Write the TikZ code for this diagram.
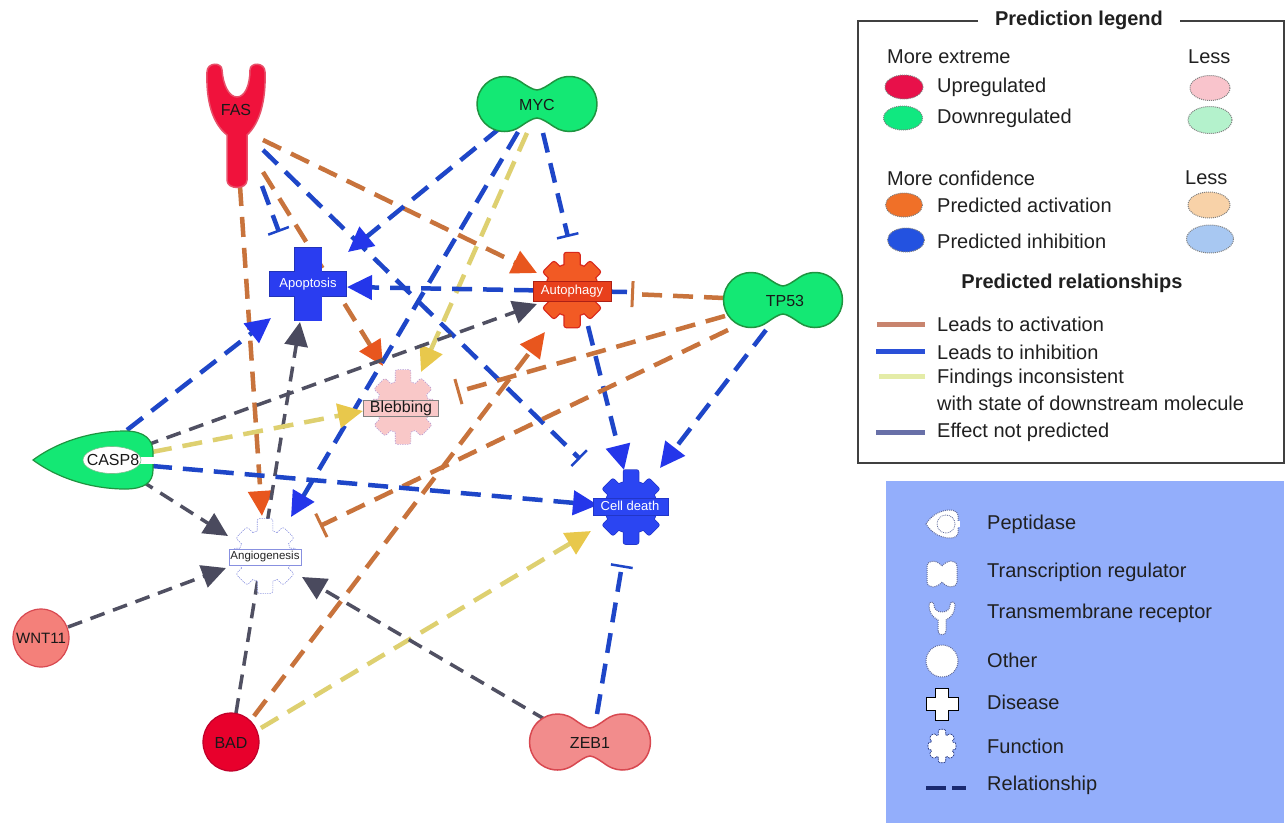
\documentclass[tikz,border=0pt]{standalone}
\usepackage{fontspec}
\setmainfont{Liberation Sans}
\usetikzlibrary{arrows.meta}
\definecolor{actline}{HTML}{C8733C}
\definecolor{acthead}{HTML}{E8561E}
\definecolor{inhline}{HTML}{1E46C8}
\definecolor{inhhead}{HTML}{2436EA}
\definecolor{yelline}{HTML}{DED070}
\definecolor{yelhead}{HTML}{E8C84C}
\definecolor{grayline}{HTML}{505062}
\definecolor{grayhead}{HTML}{4A4A5E}
\definecolor{gfill}{HTML}{14E874}
\definecolor{gedge}{HTML}{1F9440}
\definecolor{fasred}{HTML}{F0123C}
\definecolor{fasedge}{HTML}{E8506A}
\definecolor{badred}{HTML}{E8002C}
\definecolor{badedge}{HTML}{C0002A}
\definecolor{salmon}{HTML}{F4807A}
\definecolor{salmonedge}{HTML}{D84850}
\definecolor{zebfill}{HTML}{F28C8C}
\definecolor{autfill}{HTML}{F25A24}
\definecolor{autedge}{HTML}{D8281C}
\definecolor{autbox}{HTML}{E8401C}
\definecolor{cdfill}{HTML}{2B45F2}
\definecolor{cdedge}{HTML}{2236C8}
\definecolor{blebfill}{HTML}{F9C8C8}
\definecolor{blebedge}{HTML}{B898D0}
\definecolor{angedge}{HTML}{8890E0}
\definecolor{apofill}{HTML}{2A3DF0}
\definecolor{apoedge}{HTML}{2233B8}
\definecolor{legblue}{HTML}{93AEFB}
\definecolor{legtext}{HTML}{202020}
\definecolor{upfill}{HTML}{E8104A}
\definecolor{upless}{HTML}{F9C4CC}
\definecolor{downfill}{HTML}{10E880}
\definecolor{downless}{HTML}{B4F2CC}
\definecolor{actfill}{HTML}{F07028}
\definecolor{actless}{HTML}{F8D2A8}
\definecolor{inhfill}{HTML}{2352E0}
\definecolor{inhless}{HTML}{A8C8F2}
\definecolor{lgact}{HTML}{C8846E}
\definecolor{lginh}{HTML}{2A50D8}
\definecolor{lgyel}{HTML}{E4ECA8}
\definecolor{lggray}{HTML}{6870A8}
\definecolor{navy}{HTML}{1A2A70}
\tikzset{
  rel/.style={line width=4.5pt, dash pattern=on 20pt off 11pt},
  act/.style={rel, actline, -{Triangle[length=25pt,width=24pt,color=acthead]}},
  inhA/.style={rel, inhline, -{Triangle[length=25pt,width=24pt,color=inhhead]}},
  inhT/.style={rel, inhline, -{Bar[width=22pt,line width=2.5pt]}},
  actT/.style={rel, actline, -{Bar[width=26pt,line width=3pt]}},
  yel/.style={rel, yelline, -{Triangle[length=25pt,width=24pt,color=yelhead]}},
  gry/.style={line width=3.5pt, dash pattern=on 15pt off 9pt, grayline, -{Triangle[length=24pt,width=23pt,color=grayhead]}},
  genelabel/.style={font=\fontsize{16}{18}\selectfont, text=black!90, inner sep=0pt},
  funlabel/.style={font=\fontsize{13}{15}\selectfont, inner sep=0pt},
  lgtext/.style={anchor=west, font=\fontsize{20}{24}\selectfont, text=legtext, inner sep=0pt},
  lgbold/.style={font=\fontsize{20}{24}\selectfont\bfseries, text=legtext, inner sep=0pt},
  lgdot/.style={draw=black!50, densely dotted, line width=1pt},
  lgline/.style={line width=5pt},
  iconw/.style={fill=white, draw=navy!70, densely dotted, line width=1pt},
  pics/peanut/.style args={#1/#2/#3}{code={%
    \path[pic actions] (0,#3) .. controls (4,#3) and ({#1-0.574*#2-5.7},{0.819*#2-4}) .. ({#1-0.574*#2},{0.819*#2})
      arc[start angle=125,end angle=-125,radius=#2]
      .. controls ({#1-0.574*#2-5.7},{-0.819*#2+4}) and (4,-#3) .. (0,-#3)
      .. controls (-4,-#3) and ({-#1+0.574*#2+5.7},{-0.819*#2+4}) .. ({-#1+0.574*#2},{-0.819*#2})
      arc[start angle=-55,end angle=-305,radius=#2]
      .. controls ({-#1+0.574*#2+5.7},{0.819*#2-4}) and (-4,#3) .. (0,#3) -- cycle;}},
  pics/gear/.style args={#1/#2/#3}{code={%
    \foreach \a/\l in {0/37,45/33,90/31,135/33,180/37,225/33,270/31,315/33}
      {\draw[#2,line width=#3,rounded corners=2pt,rotate=\a] (-7.5,0) rectangle (7.5,\l);}
    \draw[#2,line width=#3] (0,0) circle[radius=26];
    \foreach \a/\l in {0/37,45/33,90/31,135/33,180/37,225/33,270/31,315/33}
      {\fill[#1,rounded corners=2pt,rotate=\a] (-7.5,0) rectangle (7.5,\l);}
    \fill[#1] (0,0) circle[radius=26];}},
  pics/crossshape/.style args={#1/#2/#3/#4/#5/#6/#7}{code={%
    \draw[#2,line width=#3] (-#4,-#5) rectangle (#4,#5);
    \draw[#2,line width=#3] (-#6,-#7) rectangle (#6,#7);
    \fill[#1] (-#4,-#5) rectangle (#4,#5);
    \fill[#1] (-#6,-#7) rectangle (#6,#7);}},
}
\begin{document}
\begin{tikzpicture}[x=1pt,y=-1pt]
\useasboundingbox (0,0) rectangle (1286,823);
\fill[white] (0,0) rectangle (1286,823);

% ---------- connector end points ----------
\coordinate (fasS1) at (240,186);  \coordinate (angN1) at (262,516);
\coordinate (fasS2) at (262,186);  \coordinate (apoN2) at (279,232);
\coordinate (fasS3) at (263,172);  \coordinate (blbN3) at (383,366);
\coordinate (fasS4) at (263,140);  \coordinate (autW4) at (537,273);
\coordinate (fasS5) at (263,150);  \coordinate (cdNW5) at (580,459);
\coordinate (mycS6) at (500,128);  \coordinate (apoE6) at (348,252);
\coordinate (mycS7) at (518,132);  \coordinate (angNE7) at (291,517);
\coordinate (mycS8) at (527,133);  \coordinate (blbN8) at (421,372);
\coordinate (mycS9) at (543,133);  \coordinate (autN9) at (568,237);
\coordinate (autS10) at (588,326); \coordinate (cdN10) at (624,470);
\coordinate (autE11) at (627,292); \coordinate (apoE11) at (347,287);
\coordinate (tpW12) at (724,298);  \coordinate (autE12) at (631,294);
\coordinate (tpS13) at (766,330);  \coordinate (cdNE13) at (660,468);
\coordinate (tpW14) at (725,316);  \coordinate (blbE14) at (457,392);
\coordinate (tpW15) at (728,330);  \coordinate (angE15) at (320,526);
\coordinate (badN16) at (254,716); \coordinate (autSW16) at (545,332);
\coordinate (badE17) at (261,728); \coordinate (cdSW17) at (591,531);
\coordinate (badN18) at (236,713); \coordinate (apoS18) at (300,322);
\coordinate (casN19) at (127,430); \coordinate (apoW19) at (271,318);
\coordinate (casE20) at (144,446); \coordinate (autW20) at (537,304);
\coordinate (casE21) at (152,452); \coordinate (blbW21) at (363,411);
\coordinate (casE22) at (152,466); \coordinate (cdW22) at (598,505);
\coordinate (casS23) at (140,480); \coordinate (angW23) at (228,536);
\coordinate (wntE24) at (68,627);  \coordinate (angW24) at (226,568);
\coordinate (zebNW25) at (546,720);\coordinate (angE25) at (302,577);
\coordinate (zebN26) at (597,714); \coordinate (cdS26) at (622,565);

% ---------- connectors ----------
\draw[act] (fasS1) -- (angN1);
\draw[inhT] (fasS2) -- (apoN2);
\draw[act] (fasS3) -- (blbN3);
\draw[act] (fasS4) -- (autW4);
\draw[inhT] (fasS5) -- (cdNW5);
\draw[inhA] (mycS6) -- (apoE6);
\draw[inhA] (mycS7) -- (angNE7);
\draw[yel] (mycS8) -- (blbN8);
\draw[inhT] (mycS9) -- (autN9);
\draw[inhA] (autS10) -- (cdN10);
\draw[inhA] (autE11) -- (apoE11);
\draw[actT] (tpW12) -- (autE12);
\draw[inhA] (tpS13) -- (cdNE13);
\draw[actT] (tpW14) -- (blbE14);
\draw[actT] (tpW15) -- (angE15);
\draw[act] (badN16) -- (autSW16);
\draw[yel] (badE17) -- (cdSW17);
\draw[gry] (badN18) -- (apoS18);
\draw[inhA] (casN19) -- (apoW19);
\draw[gry] (casE20) -- (autW20);
\draw[yel] (casE21) -- (blbW21);
\draw[inhA] (casE22) -- (cdW22);
\draw[gry] (casS23) -- (angW23);
\draw[gry] (wntE24) -- (angW24);
\draw[gry] (zebNW25) -- (angE25);
\draw[inhT] (zebN26) -- (cdS26);

% ---------- molecules ----------
\path[fill=fasred, draw=fasedge, line width=1.5pt]
  (227,180) -- (227,135) .. controls (212,123) and (206,100) .. (207,72)
  .. controls (207,62) and (222,62) .. (222,70)
  .. controls (223,85) and (229,97) .. (237,97)
  .. controls (245,97) and (250,85) .. (250,70)
  .. controls (250,62) and (265,62) .. (265,72)
  .. controls (266,100) and (260,123) .. (247,135) -- (247,180)
  .. controls (247,190) and (227,190) .. (227,180) -- cycle;
\node[genelabel] (fas) at (236,110) {FAS};

\pic[fill=gfill, draw=gedge, line width=1.5pt] at (537,104) {peanut={32.5/27.5/14}};
\node[genelabel] (myc) at (537,105) {MYC};
\pic[fill=gfill, draw=gedge, line width=1.5pt] at (783,300) {peanut={32/27.5/14}};
\node[genelabel] (tp53) at (785,301) {TP53};
\pic[fill=zebfill, draw=salmonedge, line width=1.5pt] at (590,742) {peanut={32.5/28/14}};
\node[genelabel] (zeb1) at (590,743) {ZEB1};

\path[fill=gfill, draw=gedge, line width=1.2pt]
  (33,460) .. controls (60,440) and (95,431) .. (125,431)
  .. controls (145,431) and (153,440) .. (153,452) -- (153,470)
  .. controls (153,482) and (145,489) .. (125,489)
  .. controls (95,489) and (60,480) .. (33,460) -- cycle;
\fill[white] (135,456.5) rectangle (154,463.5);
\path[fill=white, draw=gedge!60, line width=0.6pt] (112,460) ellipse[x radius=29, y radius=13.5];
\node[genelabel] (casp8) at (113,460) {CASP8};

\path[fill=salmon, draw=salmonedge, line width=1.2pt] (41,638) ellipse[x radius=28, y radius=29];
\node[genelabel, font=\fontsize{15}{17}\selectfont] (wnt11) at (41,638) {WNT11};
\path[fill=badred, draw=badedge, line width=1.2pt] (231,742) ellipse[x radius=28, y radius=29];
\node[genelabel] (bad) at (231,743) {BAD};

% ---------- functions and disease ----------
\pic at (308,284) {crossshape={apofill/apoedge/1.2pt/13.5/36.5/38/12}};
\node[funlabel, text=white] (apoptosis) at (308,284) {Apoptosis};

\pic at (572,290) {gear={autfill/autedge/2.5pt}};
\path[fill=autbox, draw=autedge!80!black, line width=0.8pt] (533,281) rectangle (611,301);
\node[funlabel, text=white] (autophagy) at (572,291) {Autophagy};

\pic at (631,507) {gear={cdfill/cdedge/1.5pt}};
\path[fill=cdfill, draw=cdedge, line width=0.8pt] (593,498) rectangle (668,515);
\node[funlabel, text=white] (celldeath) at (630,506) {Cell death};

\pic at (403,407) {gear={blebfill/{blebedge,densely dotted}/1.4pt}};
\path[fill=blebfill, draw=gray, line width=0.8pt] (363,400) rectangle (438,416);
\node[genelabel] (blebbing) at (401,408) {Blebbing};

\pic at (265,556) {gear={white/{angedge,densely dotted}/1.3pt}};
\path[fill=white, draw=angedge, line width=0.8pt] (229,549) rectangle (301,565);
\node[funlabel, font=\fontsize{11.5}{13}\selectfont, text=black!85] (angiogenesis) at (265,557) {Angiogenesis};

% ---------- prediction legend ----------
\draw[black!75, line width=1.3pt] (978,21) -- (858,21) -- (858,463) -- (1284,463) -- (1284,21) -- (1180,21);
\node[lgbold] (lgTitle) at (1079,20) {Prediction legend};
\node[lgtext] (lgMore) at (887,57) {More extreme};
\node[lgtext] (lgLess1) at (1188,57) {Less};
\path[lgdot, fill=upfill] (904,87) ellipse[x radius=19, y radius=12];
\path[lgdot, fill=upless] (1210,88) ellipse[x radius=20, y radius=12.5];
\node[lgtext] (lgUp) at (937,87) {Upregulated};
\path[lgdot, fill=downfill] (903,118) ellipse[x radius=19.5, y radius=12];
\path[lgdot, fill=downless] (1210,120) ellipse[x radius=22, y radius=13.5];
\node[lgtext] (lgDown) at (937,118) {Downregulated};
\node[lgtext] (lgConf) at (887,178) {More confidence};
\node[lgtext] (lgLess2) at (1185,178) {Less};
\path[lgdot, fill=actfill] (904,205) ellipse[x radius=18.5, y radius=12];
\path[lgdot, fill=actless] (1209,205) ellipse[x radius=21, y radius=13];
\node[lgtext] (lgAct) at (937,205) {Predicted activation};
\path[lgdot, fill=inhfill] (906,240) ellipse[x radius=18.5, y radius=12];
\path[lgdot, fill=inhless] (1210,239) ellipse[x radius=23.5, y radius=14];
\node[lgtext] (lgInh) at (937,241) {Predicted inhibition};
\node[lgbold] (lgRel) at (1072,283) {Predicted relationships};
\coordinate (la1) at (877,324); \coordinate (la2) at (925,324);
\draw[lgline, lgact] (la1) -- (la2);
\node[lgtext] (lgLA) at (937,324) {Leads to activation};
\coordinate (li1) at (876,351); \coordinate (li2) at (925,351);
\draw[lgline, lginh] (li1) -- (li2);
\node[lgtext] (lgLI) at (937,352) {Leads to inhibition};
\coordinate (ly1) at (879,376); \coordinate (ly2) at (925,376);
\draw[lgline, lgyel] (ly1) -- (ly2);
\node[lgtext] (lgF1) at (937,378) {Findings inconsistent};
\node[lgtext] (lgF2) at (937,403) {with state of downstream molecule};
\coordinate (lg1) at (876,432); \coordinate (lg2) at (925,432);
\draw[lgline, lggray] (lg1) -- (lg2);
\node[lgtext] (lgNP) at (937,432) {Effect not predicted};

% ---------- shape legend ----------
\fill[legblue] (886,481) rectangle (1284,823);
% peptidase icon
\path[iconw] (926,524) .. controls (932,514) and (942,510) .. (950,510)
  .. controls (957,510) and (959,515) .. (958,518) -- (958,530)
  .. controls (959,534) and (957,538) .. (950,538)
  .. controls (942,538) and (932,534) .. (926,524) -- cycle;
\fill[white] (950,521) rectangle (960,527);
\path[draw=navy!70, densely dotted, line width=0.8pt] (946,524) ellipse[x radius=9, y radius=9];
\node[lgtext] (lgPep) at (987,524) {Peptidase};
% transcription regulator icon
\path[iconw] (942,566) .. controls (947,560) and (956,559) .. (957,566) -- (957,582)
  .. controls (956,589) and (947,588) .. (942,582)
  .. controls (937,588) and (928,589) .. (927,582) -- (927,566)
  .. controls (928,559) and (937,560) .. (942,566) -- cycle;
\node[lgtext] (lgTR) at (987,572) {Transcription regulator};
% transmembrane receptor icon
\path[iconw] (938,631) -- (938,620) .. controls (932,617) and (929,612) .. (929,605)
  .. controls (929,601) and (934,601) .. (934,605)
  .. controls (934,609) and (937,612) .. (942,612)
  .. controls (947,612) and (950,609) .. (950,605)
  .. controls (950,601) and (955,601) .. (955,605)
  .. controls (955,612) and (952,617) .. (946,620) -- (946,631)
  .. controls (946,636) and (938,636) .. (938,631) -- cycle;
\node[lgtext] (lgTM) at (987,613) {Transmembrane receptor};
% other icon
\path[iconw] (942,661) circle[radius=16];
\node[lgtext] (lgOther) at (987,660) {Other};
% disease icon
\pic at (942,704) {crossshape={white/black/2pt/6/15.5/15.5/6}};
\node[lgtext] (lgDis) at (987,702) {Disease};
% function icon
\pic[scale=0.44] at (942,746) {gear={white/{navy,densely dotted}/1.6pt}};
\node[lgtext] (lgFun) at (987,746) {Function};
% relationship icon
\coordinate (lr1) at (926,788); \coordinate (lr2) at (966,788);
\draw[navy, line width=3.5pt, dash pattern=on 20pt off 6pt] (lr1) -- (lr2);
\node[lgtext] (lgRel2) at (987,785) {Relationship};
\end{tikzpicture}
\end{document}
